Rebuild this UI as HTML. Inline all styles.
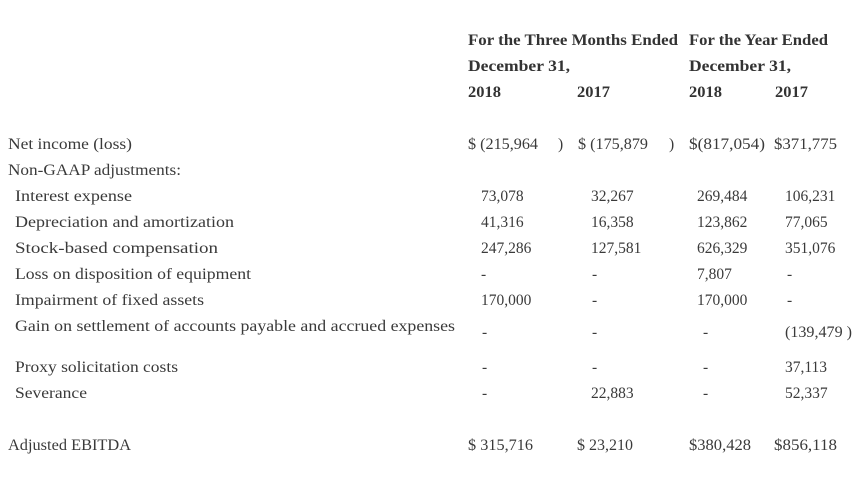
<!DOCTYPE html>
<html><head><meta charset="utf-8"><style>
html,body{margin:0;padding:0;background:#fff;}
svg{display:block;}
text{font-family:"Liberation Serif",serif;fill:#3a3a3a;font-size:15.5px;}
.b{font-weight:bold;fill:#333;}
.n{font-size:15.5px;}
</style></head><body>
<svg width="863" height="479" xmlns="http://www.w3.org/2000/svg">
<g class="b">
<text class="b" x="468" y="45" textLength="210" lengthAdjust="spacingAndGlyphs">For the Three Months Ended</text>
<text class="b" x="689" y="45" textLength="139" lengthAdjust="spacingAndGlyphs">For the Year Ended</text>
<text class="b" x="468" y="71" textLength="102" lengthAdjust="spacingAndGlyphs">December 31,</text>
<text class="b" x="689" y="71" textLength="102" lengthAdjust="spacingAndGlyphs">December 31,</text>
<text class="b" x="468" y="97" textLength="33" lengthAdjust="spacingAndGlyphs">2018</text>
<text class="b" x="577" y="97" textLength="33" lengthAdjust="spacingAndGlyphs">2017</text>
<text class="b" x="689" y="97" textLength="33" lengthAdjust="spacingAndGlyphs">2018</text>
<text class="b" x="775" y="97" textLength="33" lengthAdjust="spacingAndGlyphs">2017</text>
</g>
<text x="8" y="149" textLength="124" lengthAdjust="spacingAndGlyphs">Net income (loss)</text>
<text x="8" y="175" textLength="173" lengthAdjust="spacingAndGlyphs">Non-GAAP adjustments:</text>
<text x="15" y="201" textLength="117" lengthAdjust="spacingAndGlyphs">Interest expense</text>
<text x="15" y="227" textLength="219" lengthAdjust="spacingAndGlyphs">Depreciation and amortization</text>
<text x="15" y="253" textLength="203" lengthAdjust="spacingAndGlyphs">Stock-based compensation</text>
<text x="15" y="279" textLength="236" lengthAdjust="spacingAndGlyphs">Loss on disposition of equipment</text>
<text x="15" y="305" textLength="189" lengthAdjust="spacingAndGlyphs">Impairment of fixed assets</text>
<text x="15" y="331" textLength="440" lengthAdjust="spacingAndGlyphs">Gain on settlement of accounts payable and accrued expenses</text>
<text x="15" y="372" textLength="163" lengthAdjust="spacingAndGlyphs">Proxy solicitation costs</text>
<text x="15" y="398" textLength="72" lengthAdjust="spacingAndGlyphs">Severance</text>
<text x="8" y="450" textLength="123" lengthAdjust="spacingAndGlyphs">Adjusted EBITDA</text>
<g class="n">
<text class="n" x="468" y="149" textLength="70" lengthAdjust="spacingAndGlyphs">$ (215,964</text><text class="n" x="558" y="149">)</text>
<text class="n" x="578" y="149" textLength="70" lengthAdjust="spacingAndGlyphs">$ (175,879</text><text class="n" x="669" y="149">)</text>
<text class="n" x="689" y="149" textLength="76" lengthAdjust="spacingAndGlyphs">$(817,054)</text>
<text class="n" x="774" y="149" textLength="63" lengthAdjust="spacingAndGlyphs">$371,775</text>

<text class="n" x="481" y="201">73,078</text><text class="n" x="591" y="201">32,267</text><text class="n" x="697" y="201">269,484</text><text class="n" x="785" y="201">106,231</text>
<text class="n" x="481" y="227">41,316</text><text class="n" x="591" y="227">16,358</text><text class="n" x="697" y="227">123,862</text><text class="n" x="785" y="227">77,065</text>
<text class="n" x="481" y="253">247,286</text><text class="n" x="591" y="253">127,581</text><text class="n" x="697" y="253">626,329</text><text class="n" x="785" y="253">351,076</text>
<text class="n" x="481" y="279">-</text><text class="n" x="592" y="279">-</text><text class="n" x="697" y="279">7,807</text><text class="n" x="787" y="279">-</text>
<text class="n" x="481" y="305">170,000</text><text class="n" x="592" y="305">-</text><text class="n" x="697" y="305">170,000</text><text class="n" x="787" y="305">-</text>
<text class="n" x="482" y="337">-</text><text class="n" x="592" y="337">-</text><text class="n" x="703" y="337">-</text><text class="n" x="785" y="337" textLength="67" lengthAdjust="spacingAndGlyphs">(139,479 )</text>
<text class="n" x="482" y="372">-</text><text class="n" x="592" y="372">-</text><text class="n" x="703" y="372">-</text><text class="n" x="785" y="372">37,113</text>
<text class="n" x="482" y="398">-</text><text class="n" x="591" y="398">22,883</text><text class="n" x="703" y="398">-</text><text class="n" x="785" y="398">52,337</text>

<text class="n" x="468" y="450" textLength="65" lengthAdjust="spacingAndGlyphs">$ 315,716</text>
<text class="n" x="577" y="450" textLength="56" lengthAdjust="spacingAndGlyphs">$ 23,210</text>
<text class="n" x="689" y="450" textLength="62" lengthAdjust="spacingAndGlyphs">$380,428</text>
<text class="n" x="774" y="450" textLength="63" lengthAdjust="spacingAndGlyphs">$856,118</text>
</g>
</svg>
</body></html>
